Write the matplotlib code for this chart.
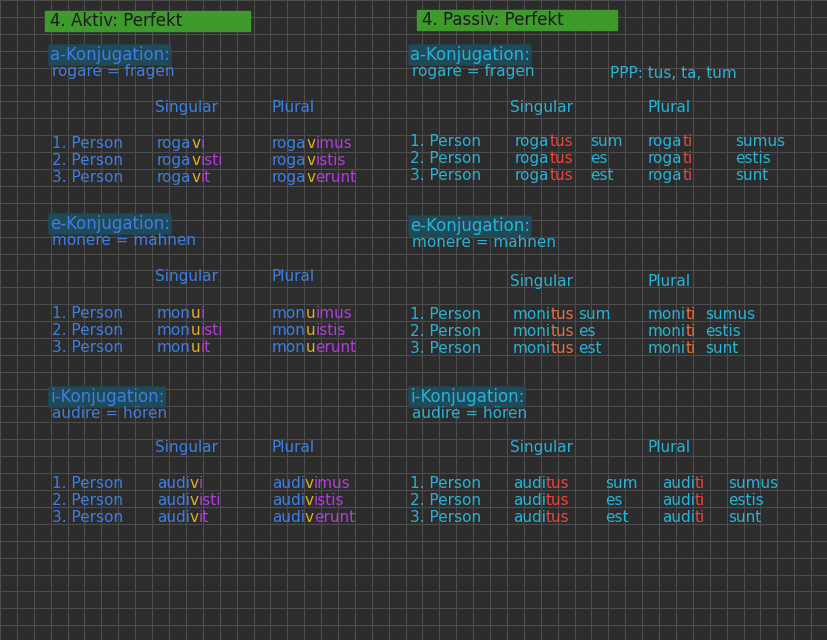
import matplotlib
matplotlib.use("Agg")
import matplotlib.pyplot as plt

BLUE = "#3d7fe0"
CYAN = "#27b3d6"
PURPLE = "#b03fd8"
YELLOW = "#e0b020"
RED = "#e8453c"
GREEN = "#3f9a2c"

persons = ["1. Person", "2. Person", "3. Person"]

# active perfect: (stem, v-part, ending) per form
a_act_sg = [("roga", "v", "i"), ("roga", "v", "isti"), ("roga", "v", "it")]
a_act_pl = [("roga", "v", "imus"), ("roga", "v", "istis"), ("roga", "v", "erunt")]
e_act_sg = [("mon", "u", "i"), ("mon", "u", "isti"), ("mon", "u", "it")]
e_act_pl = [("mon", "u", "imus"), ("mon", "u", "istis"), ("mon", "u", "erunt")]
i_act_sg = [("audi", "v", "i"), ("audi", "v", "isti"), ("audi", "v", "it")]
i_act_pl = [("audi", "v", "imus"), ("audi", "v", "istis"), ("audi", "v", "erunt")]

# passive perfect: stem, ppp ending, esse form
esse_sg = ["sum", "es", "est"]
esse_pl = ["sumus", "estis", "sunt"]
a_stem, e_stem, i_stem = "roga", "moni", "audi"

fig = plt.figure(figsize=(8.28, 6.4), dpi=100)
fig.patch.set_facecolor("#2c2c2c")
ax = fig.add_axes([0, 0, 1, 1])
ax.set_xlim(0, 828)
ax.set_ylim(640, 0)
ax.axis("off")
renderer = fig.canvas.get_renderer()

step = 16.9
g = 0.0
while g < 830:
    ax.axvline(g, color="#4d4d4d", lw=0.8, zorder=0)
    ax.axhline(g, color="#4d4d4d", lw=0.8, zorder=0)
    g += step

FS = 11


def txt(x, y, s, c=BLUE, size=FS, **kw):
    return ax.text(x, y, s, color=c, fontsize=size, va="baseline", ha="left", **kw)


def chain(x, y, parts):
    # pieces of one word in different colours, same baseline
    for s, c in parts:
        t = txt(x, y, s, c)
        bb = t.get_window_extent(renderer)
        x += bb.width * 828 / fig.bbox.width


def header(x, y, s, w):
    ax.add_patch(plt.Rectangle((x - 5, y - 10), w, 20, color=GREEN, zorder=1))
    ax.text(x, y, s, color="#1c1c1c", fontsize=12, va="center", ha="left", zorder=2)


def title(x, y, s, c):
    ax.text(x, y, s, color=c, fontsize=FS + 1, va="center", ha="left",
            bbox=dict(boxstyle="round,pad=0.1", fc="#1f4a5a", ec="none"))


def active_block(ty, conj, verb, sy, ry, sg, pl):
    title(50, ty, conj, BLUE)
    txt(52, ty + 21, verb, BLUE)
    txt(155, sy + 5, "Singular")
    txt(272, sy + 5, "Plural")
    for k in range(3):
        y = ry + k * 17 + 5
        txt(52, y, persons[k])
        chain(157, y, [(sg[k][0], BLUE), (sg[k][1], YELLOW), (sg[k][2], PURPLE)])
        chain(272, y, [(pl[k][0], BLUE), (pl[k][1], YELLOW), (pl[k][2], PURPLE)])


def passive_block(ty, conj, verb, sy, ry, stem, fx, ex, px, qx, col):
    title(410, ty, conj, CYAN)
    txt(412, ty + 21, verb, CYAN)
    txt(510, sy + 5, "Singular", CYAN)
    txt(648, sy + 5, "Plural", CYAN)
    for k in range(3):
        y = ry + k * 17 + 5
        txt(410, y, persons[k], CYAN)
        chain(fx, y, [(stem, CYAN), ("tus", col)])
        txt(ex, y, esse_sg[k], CYAN)
        chain(px, y, [(stem, CYAN), ("ti", col)])
        txt(qx, y, esse_pl[k], CYAN)


header(50, 21, "4. Aktiv: Perfekt", 205)
header(422, 20, "4. Passiv: Perfekt", 200)

active_block(55, "a-Konjugation:", "rogare = fragen", 107, 143, a_act_sg, a_act_pl)
active_block(224, "e-Konjugation:", "monere = mahnen", 276, 313, e_act_sg, e_act_pl)
active_block(397, "i-Konjugation:", "audire = hören", 447, 483, i_act_sg, i_act_pl)

txt(610, 78, "PPP: tus, ta, tum", CYAN)
passive_block(55, "a-Konjugation:", "rogare = fragen", 107, 141, a_stem, 515, 590, 648, 735, RED)
passive_block(226, "e-Konjugation:", "monere = mahnen", 281, 314, e_stem, 513, 578, 648, 705, "#e8703c")
passive_block(397, "i-Konjugation:", "audire = hören", 447, 483, i_stem, 513, 605, 662, 728, RED)

fig.savefig("out.png", dpi=100, facecolor=fig.get_facecolor())
